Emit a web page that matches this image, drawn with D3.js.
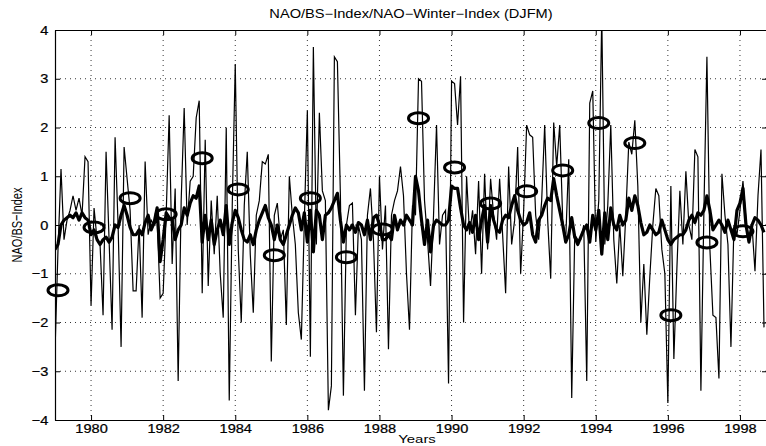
<!DOCTYPE html>
<html>
<head>
<meta charset="utf-8">
<script src="https://cdn.jsdelivr.net/npm/d3@7"></script>
<style>
  body { margin: 0; background: #fff; }
  svg { display: block; font-family: "Liberation Sans", Arial, Helvetica, sans-serif; }
  .grid line { stroke: #000; stroke-width: 0.8; stroke-dasharray: 1 4; }
  .axis path, .axis line { stroke: #000; }
  .axis text { font-size: 13px; fill: #000; stroke: #000; stroke-width: 0.25; }
</style>
</head>
<body>
<div class="page-content"></div>
<script>
// monthly NAO index, Jan 1979 .. Sep 1998 (one row per year)
var naoMonthly = [
  -2.6, -0.5, 1.15, -0.3, 0.1, 0.3, 0.6, 0.3, 0.55, 0.2, 1.4, 1.3,
  -1.65, 0.35, -0.3, -0.4, -1.85, 1.5, -0.3, -2.15, 1.8, 0.0, -2.5, 1.6,
  0.95, 0.3, -1.35, -1.35, 0.0, -1.9, 1.3, -0.2, 0.1, 0.0, 0.1, -1.5,
  -1.4, 0.2, 2.25, -0.8, 0.75, -3.2, 0.5, 2.4, 0.0, 0.9, 1.0, 2.2,
  2.55, -1.4, 1.75, -1.25, 0.5, -0.6, 0.6, -1.0, -1.9, 2.0, -3.6, 0.4,
  3.3, -0.5, -2.0, 0.4, 1.5, -0.6, -1.8, 0.2, 0.5, 1.3, 1.25, 1.45,
  -2.8, 0.2, 0.45, -0.3, -0.1, -2.05, 1.0, 0.2, -0.4, -1.8, -2.35, 0.1,
  2.35, -2.7, 3.65, -0.4, 2.3, 0.7, 0.5, -3.8, -3.3, 3.45, 3.35, 0.6,
  -3.5, 0.0, 0.4, 0.45, -1.85, 0.0, -0.3, -3.4, 0.2, 0.75, -0.3, -2.2,
  1.0, -0.5, 0.4, -2.55, 0.2, 0.5, 0.7, 1.2, 0.6, -1.0, -2.15, 0.4,
  0.2, 3.0, 2.95, 0.5, -0.3, -1.25, 0.2, 2.05, -0.4, 0.2, 0.3, -3.25,
  2.95, 2.9, 2.05, 3.05, -2.0, 1.0, -0.2, 0.3, -0.6, 0.9, -1.0, 1.05,
  -0.5, 0.95, 0.2, -0.3, 0.95, -0.2, -1.4, 1.2, -0.4, 0.1, 1.6, -1.0,
  0.3, 2.05, 1.85, 1.8, 0.2, -0.3, 0.5, 2.05, 0.1, -1.1, 2.1, 1.2,
  2.05, 0.1, -0.3, 1.35, -3.55, -0.2, -0.3, -0.3, 0.0, -3.2, 2.5, 2.75,
  -0.35, 0.5, 4.3, -0.4, 0.4, 2.05, -0.3, -1.2, 0.0, -1.05, 0.2, 1.7,
  1.45, 2.15, 0.8, -2.0, -0.8, -2.25, -1.05, 0.0, 0.75, 0.6, -0.5, -1.0,
  -3.65, 0.8, -2.75, -0.9, 0.7, -0.4, 1.1, 0.0, -0.3, 1.55, 1.4, -3.4,
  0.3, 3.45, -0.5, -1.85, -1.9, -3.15, 1.05, 0.2, -0.4, -2.5, 0.0, -0.2,
  0.3, 0.9, 0.1, -0.3, 0.0, -0.95, 0.6, 1.55, -2.1
];

// monthly BS index (thick line), same months
var bsMonthly = [
  -0.5, -0.4, 0.0, 0.1, 0.15, 0.2, 0.15, 0.25, 0.1, 0.25, 0.15, 0.1,
  -0.2, -0.1, -0.3, -0.4, -0.3, -0.25, -0.35, -0.25, 0.0, -0.05, 0.2, 0.4,
  0.2, -0.05, -0.2, -0.2, -0.1, -0.2, 0.05, 0.2, -0.1, 0.05, 0.35, -0.75,
  -0.3, 0.25, 0.15, 0.1, -0.3, -0.1, 0.0, 0.35, 0.2, 0.45, 0.6, 0.55,
  0.8, -0.35, 0.2, -0.3, 0.1, -0.4, -0.1, 0.1, -0.2, 0.4, -0.4, 0.05,
  0.3, 0.15, -0.1, -0.3, -0.35, -0.2, -0.4, -0.1, 0.1, 0.25, 0.4, 0.15,
  0.0, -0.3, 0.0, -0.3, -0.4, -0.2, 0.0, 0.2, 0.35, 0.25, -0.1, 0.25,
  -0.35, 0.3, -0.55, 0.3, 0.2, -0.3, 0.2, 0.25, 0.35, 0.5, 0.65, 0.1,
  -0.35, 0.0, -0.1, 0.0, -0.15, 0.05, 0.0, -0.2, 0.1, -0.3, 0.15, 0.2,
  0.0, -0.3, -0.3, -0.2, -0.3, 0.2, -0.1, 0.1, 0.0, 0.2, 0.1, 0.0,
  1.0, 0.7, 0.1, -0.4, 0.1, -0.55, 0.0, 0.1, 0.05, 0.0, 0.0, 0.1,
  0.8, 0.75, 0.75, 0.35, 0.0, -0.1, 0.05, -0.15, 0.2, -0.3, 0.1, 0.4,
  -0.35, 0.4, 0.1, -0.1, -0.15, 0.1, 0.2, 0.15, 0.4, 0.6, 0.3, 0.1,
  0.0, 0.05, 0.25, -0.2, -0.35, 0.1, 0.2, 0.4, 0.55, 0.5, 0.95, 0.6,
  0.3, 0.0, -0.35, -0.2, 0.15, -0.25, -0.4, -0.25, -0.1, 0.0, -0.35, 0.2,
  -0.1, 0.3, -0.6, 0.25, -0.3, 0.35, 0.0, -0.1, 0.2, 0.0, 0.1, 0.55,
  0.3, 0.6, 0.4, 0.05, -0.2, -0.15, 0.0, -0.1, -0.2, -0.15, 0.1, -0.1,
  -0.3, -0.4, -0.3, -0.25, -0.2, -0.2, -0.1, 0.1, 0.2, 0.05, 0.25, 0.2,
  0.3, 0.6, 0.3, -0.1, 0.0, 0.1, 0.0, -0.15, 0.1, -0.1, -0.3, 0.3,
  0.45, 0.75, 0.0, -0.35, 0.0, 0.15, 0.1, 0.0, -0.15
];

// NAO winter index (DJFM), one per year
var winterYears = [1979, 1980, 1981, 1982, 1983, 1984, 1985, 1986, 1987, 1988,
                   1989, 1990, 1991, 1992, 1993, 1994, 1995, 1996, 1997, 1998];
var winterIndex = [-1.34, -0.05, 0.55, 0.22, 1.37, 0.73, -0.62, 0.55, -0.66, -0.09,
                   2.19, 1.18, 0.44, 0.69, 1.12, 2.09, 1.68, -1.85, -0.36, -0.13];

var xTicks = [1980, 1982, 1984, 1986, 1988, 1990, 1992, 1994, 1996, 1998];
var yTicks = [-4, -3, -2, -1, 0, 1, 2, 3, 4];

document.addEventListener('DOMContentLoaded', setupGraph, false);

function setupGraph() {
  var width = 766, height = 446;
  var margin = {top: 30, right: -1, bottom: 26, left: 55};
  var w = width - margin.left - margin.right,
      h = height - margin.top - margin.bottom;

  var fmt = function(d) { return String(d).replace("-", "\u2212"); };

  var svg = d3.select(".page-content").append("svg")
      .attr("width", width)
      .attr("height", height);

  var x = d3.scaleLinear().domain([1979, 1998.75]).range([0, w]);
  var y = d3.scaleLinear().domain([-4, 4]).range([h, 0]);

  var g = svg.append("g")
      .attr("transform", "translate(" + margin.left + "," + margin.top + ")");

  g.append("clipPath").attr("id", "clip")
    .append("rect").attr("width", w).attr("height", h);

  // dotted grid
  g.append("g").attr("class", "grid")
    .selectAll("line").data(xTicks)
    .enter().append("line")
      .attr("x1", function(d) { return x(d); })
      .attr("x2", function(d) { return x(d); })
      .attr("y1", 0).attr("y2", h);
  g.append("g").attr("class", "grid")
    .selectAll("line").data(yTicks.slice(1, -1))
    .enter().append("line")
      .attr("y1", function(d) { return y(d); })
      .attr("y2", function(d) { return y(d); })
      .attr("x1", 0).attr("x2", w);

  // axes, matlab style ticks pointing inward
  g.append("g").attr("class", "axis")
      .attr("transform", "translate(0," + h + ")")
      .call(d3.axisBottom(x).tickValues(xTicks).tickFormat(fmt).tickSizeInner(-5).tickSizeOuter(0).tickPadding(4));
  g.append("g").attr("class", "axis")
      .call(d3.axisTop(x).tickValues(xTicks).tickFormat("").tickSizeInner(-5).tickSizeOuter(0));
  g.append("g").attr("class", "axis")
      .call(d3.axisLeft(y).tickValues(yTicks).tickFormat(fmt).tickSizeInner(-5).tickSizeOuter(0).tickPadding(6));
  g.append("g").attr("class", "axis")
      .attr("transform", "translate(" + w + ",0)")
      .call(d3.axisRight(y).tickValues(yTicks).tickFormat("").tickSizeInner(-5).tickSizeOuter(0));
  g.selectAll(".axis .domain").attr("stroke-width", 1.2);
  // the scanned figure is a little stretched sideways
  g.selectAll(".axis text").attr("transform", "scale(1.12,1)");

  var monthT = function(i) { return 1979 + i / 12; };

  var line = d3.line()
      .x(function(d, i) { return x(monthT(i)); })
      .y(function(d) { return y(d); });

  var plot = g.append("g").attr("clip-path", "url(#clip)");

  plot.append("path")
      .datum(naoMonthly)
      .attr("fill", "none")
      .attr("stroke", "#000")
      .attr("stroke-width", 1.2)
      .attr("d", line);

  plot.append("path")
      .datum(bsMonthly)
      .attr("fill", "none")
      .attr("stroke", "#000")
      .attr("stroke-width", 3.2)
      .attr("stroke-linejoin", "round")
      .attr("d", line);

  // winter index markers are not clipped (first one sits on the axis)
  g.append("g")
    .selectAll("ellipse")
      .data(winterIndex)
    .enter().append("ellipse")
      .attr("cx", function(d, i) { return x(winterYears[i] + 1 / 12); })
      .attr("cy", function(d) { return y(d); })
      .attr("rx", 10)
      .attr("ry", 5.5)
      .attr("fill", "none")
      .attr("stroke", "#000")
      .attr("stroke-width", 3);

  // labels
  svg.append("text")
      .attr("transform", "translate(" + (margin.left + w / 2) + ",18) scale(1.22,1)")
      .attr("text-anchor", "middle")
      .style("font-size", "12px")
      .text("NAO/BS\u2212Index/NAO\u2212Winter\u2212Index (DJFM)");

  svg.append("text")
      .attr("transform", "translate(" + (margin.left + w / 2 + 6) + ",443) scale(1.3,1)")
      .attr("text-anchor", "middle")
      .style("font-size", "11.5px")
      .text("Years");

  svg.append("text")
      .attr("transform", "translate(22," + (margin.top + y(0)) + ") scale(1.4,1) rotate(-90)")
      .attr("text-anchor", "middle")
      .style("font-size", "11px")
      .text("NAO/BS\u2212Index");
}
</script>
</body>
</html>
